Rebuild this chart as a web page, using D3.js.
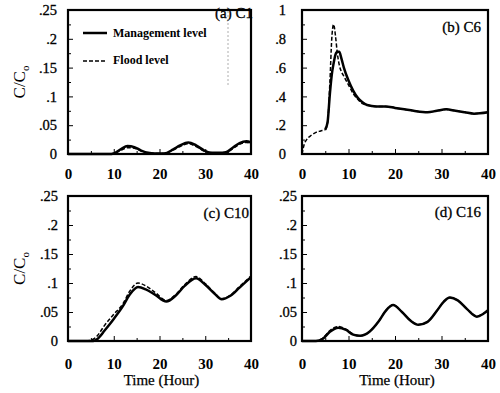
<!DOCTYPE html>
<html>
<head>
<meta charset="utf-8">
<script src="https://cdn.jsdelivr.net/npm/d3@7"></script>
<style>
  body { margin: 0; background: #fff; }
  svg { display: block; font-family: "Liberation Serif", "Times New Roman", serif; }
</style>
</head>
<body>
<svg id="chart" width="500" height="393"></svg>
<script>
// (a) C1
var timeA = [0, 5, 9, 10, 11.5, 13, 14.5, 16, 17.5, 19, 21, 23, 24.5, 26.3, 28, 29.8, 31.5, 33, 34.5, 36, 37.5, 39, 40];
var mgmtA = [0, 0, 0, 0.001, 0.008, 0.014, 0.012, 0.006, 0.002, 0.001, 0.001, 0.008, 0.015, 0.02, 0.015, 0.006, 0.002, 0.002, 0.003, 0.011, 0.019, 0.022, 0.02];
var floodA = [0, 0, 0, 0.001, 0.006, 0.011, 0.01, 0.005, 0.001, 0.001, 0.001, 0.007, 0.013, 0.018, 0.013, 0.005, 0.002, 0.001, 0.002, 0.009, 0.017, 0.02, 0.018];

// (b) C6
var timeB = [0, 0.5, 1, 2, 3, 4, 5, 5.5, 6, 6.4, 6.8, 7.2, 7.6, 8, 8.5, 9, 10, 11, 12, 13, 14, 16, 18, 20, 22, 24, 27, 29, 31, 33, 35, 37, 40];
var mgmtB = [null, null, null, null, null, null, 0.17, 0.22, 0.42, 0.55, 0.63, 0.69, 0.71, 0.71, 0.66, 0.6, 0.51, 0.44, 0.39, 0.36, 0.34, 0.33, 0.33, 0.32, 0.31, 0.3, 0.29, 0.3, 0.31, 0.3, 0.29, 0.28, 0.29];
var floodB = [0, 0.07, 0.1, 0.13, 0.15, 0.16, 0.17, 0.22, 0.5, 0.8, 0.9, 0.82, 0.7, 0.62, 0.57, 0.54, 0.48, 0.42, 0.38, 0.35, 0.34, 0.33, 0.33, 0.32, 0.31, 0.3, 0.29, 0.3, 0.31, 0.3, 0.29, 0.28, 0.29];

// (c) C10
var timeC = [0, 4, 5.5, 6.5, 8, 10, 12, 13.5, 15.3, 17, 19, 21.5, 23.5, 25.5, 28, 30, 32, 33.6, 35.5, 37.5, 40];
var mgmtC = [0, 0, 0, 0.004, 0.018, 0.038, 0.06, 0.08, 0.093, 0.089, 0.08, 0.068, 0.078, 0.095, 0.108, 0.097, 0.082, 0.072, 0.078, 0.092, 0.11];
var floodC = [0, 0, 0.003, 0.01, 0.027, 0.046, 0.064, 0.086, 0.1, 0.095, 0.084, 0.07, 0.08, 0.097, 0.111, 0.099, 0.083, 0.073, 0.079, 0.094, 0.112];

// (d) C16
var timeD = [0, 3, 4.5, 6, 7.8, 9.5, 11, 12.5, 14.5, 16.5, 18, 19.6, 21.5, 23.5, 25, 27, 29, 30.5, 31.8, 33.5, 35.5, 37.6, 39, 40];
var mgmtD = [0, 0, 0.004, 0.016, 0.023, 0.019, 0.011, 0.009, 0.016, 0.034, 0.052, 0.062, 0.05, 0.034, 0.028, 0.033, 0.052, 0.068, 0.075, 0.07, 0.055, 0.042, 0.047, 0.053];
var floodD = [0, 0, 0.005, 0.018, 0.025, 0.02, 0.012, 0.009, 0.016, 0.034, 0.052, 0.062, 0.05, 0.034, 0.028, 0.033, 0.052, 0.068, 0.075, 0.07, 0.055, 0.043, 0.047, 0.053];

var xTicks = [0, 10, 20, 30, 40];
var yTicksSmall = [0, 0.05, 0.1, 0.15, 0.2, 0.25];
var yTicksBig = [0, 0.2, 0.4, 0.6, 0.8, 1];

var panels = [
  {id: "a", title: "(a) C1", t: timeA, m: mgmtA, f: floodA, yMax: 0.25, yTicks: yTicksSmall,
   box: [68, 251, 10, 154], yPad: 11, xPad: 14, titleX: 253, titleY: 18, yLabel: true, xTitle: false},
  {id: "b", title: "(b) C6", t: timeB, m: mgmtB, f: floodB, yMax: 1, yTicks: yTicksBig,
   box: [302, 488, 10, 154], yPad: 16, xPad: 14, titleX: 481, titleY: 32, yLabel: false, xTitle: false},
  {id: "c", title: "(c) C10", t: timeC, m: mgmtC, f: floodC, yMax: 0.25, yTicks: yTicksSmall,
   box: [68, 251, 196, 341], yPad: 10, xPad: 17, titleX: 249, titleY: 218, yLabel: true, xTitle: true},
  {id: "d", title: "(d) C16", t: timeD, m: mgmtD, f: floodD, yMax: 0.25, yTicks: yTicksSmall,
   box: [302, 488, 196, 341], yPad: 5, xPad: 17, titleX: 481, titleY: 217, yLabel: false, xTitle: true}
];

var svg = d3.select("#chart");

function fmt(d) {
  if (d === 0) return "0";
  if (d === 1) return "1";
  return String(+d.toFixed(3)).replace(/^0/, "");
}

panels.forEach(function(p) {
  var x = d3.scaleLinear().domain([0, 40]).range([p.box[0], p.box[1]]);
  var y = d3.scaleLinear().domain([0, p.yMax]).range([p.box[3], p.box[2]]);
  var g = svg.append("g").attr("class", "panel-" + p.id);

  // minor ticks (halfway between majors)
  var xMinor = d3.range(5, 40, 10);
  var step = p.yTicks[1] - p.yTicks[0];
  var yMinor = p.yTicks.slice(0, -1).map(function(v) { return v + step / 2; });

  g.append("g")
    .attr("transform", "translate(0," + p.box[3] + ")")
    .call(d3.axisBottom(x).tickValues(xMinor).tickSize(-3).tickFormat(""))
    .call(function(s) { s.select(".domain").remove(); });
  g.append("g")
    .attr("transform", "translate(" + p.box[0] + ",0)")
    .call(d3.axisLeft(y).tickValues(yMinor).tickSize(-3).tickFormat(""))
    .call(function(s) { s.select(".domain").remove(); });

  var xAxis = g.append("g")
    .attr("transform", "translate(0," + p.box[3] + ")")
    .call(d3.axisBottom(x).tickValues(xTicks).tickSize(-5).tickPadding(p.xPad));
  xAxis.select(".domain").remove();
  xAxis.selectAll("text")
    .style("font-family", "Liberation Serif")
    .style("font-size", "15px")
    .style("font-weight", "bold")
    .attr("fill", "#000");

  var yAxis = g.append("g")
    .attr("transform", "translate(" + p.box[0] + ",0)")
    .call(d3.axisLeft(y).tickValues(p.yTicks).tickSize(-5).tickPadding(p.yPad).tickFormat(fmt));
  yAxis.select(".domain").remove();
  yAxis.selectAll("text")
    .style("font-family", "Liberation Serif")
    .style("font-size", "14.5px")
    .attr("fill", "#000")
    .attr("stroke", "#000")
    .attr("stroke-width", 0.3);
  g.selectAll(".tick line").attr("stroke", "#000").attr("stroke-width", 1);

  var line = d3.line()
    .defined(function(d) { return d[1] != null; })
    .x(function(d) { return x(d[0]); })
    .y(function(d) { return y(d[1]); })
    .curve(d3.curveMonotoneX);

  var mData = p.t.map(function(t, i) { return [t, p.m[i]]; });
  var fData = p.t.map(function(t, i) { return [t, p.f[i]]; });

  g.append("path")
    .attr("d", line(mData))
    .attr("fill", "none")
    .attr("stroke", "#000")
    .attr("stroke-width", 2.5);
  g.append("path")
    .attr("d", line(fData))
    .attr("fill", "none")
    .attr("stroke", "#000")
    .attr("stroke-width", 1.5)
    .attr("stroke-dasharray", "4,2");

  // frame
  g.append("rect")
    .attr("x", p.box[0])
    .attr("y", p.box[2])
    .attr("width", p.box[1] - p.box[0])
    .attr("height", p.box[3] - p.box[2])
    .attr("fill", "none")
    .attr("stroke", "#000")
    .attr("stroke-width", 2.2);

  g.append("text")
    .attr("x", p.titleX)
    .attr("y", p.titleY)
    .attr("text-anchor", "end")
    .style("font-size", "15px")
    .attr("stroke", "#000")
    .attr("stroke-width", 0.3)
    .text(p.title);

  if (p.yLabel) {
    var cy = (p.box[2] + p.box[3]) / 2;
    var lab = g.append("text")
      .attr("transform", "translate(25," + cy + ") rotate(-90)")
      .attr("text-anchor", "middle")
      .style("font-size", "17px");
    lab.append("tspan").text("C/C");
    lab.append("tspan").attr("dy", 4).style("font-size", "11px").text("o");
  }
  if (p.xTitle) {
    g.append("text")
      .attr("x", (p.box[0] + p.box[1]) / 2 + 2)
      .attr("y", 385)
      .attr("text-anchor", "middle")
      .style("font-size", "15px")
      .attr("stroke", "#000")
      .attr("stroke-width", 0.25)
      .text("Time (Hour)");
  }
});

// legend in panel (a)
var legend = svg.append("g").style("font-size", "12px").style("font-weight", "bold");
legend.append("line").attr("x1", 83).attr("x2", 107).attr("y1", 33).attr("y2", 33)
  .attr("stroke", "#000").attr("stroke-width", 2.5);
legend.append("text").attr("x", 113).attr("y", 37).text("Management level");
legend.append("line").attr("x1", 83).attr("x2", 107).attr("y1", 61).attr("y2", 61)
  .attr("stroke", "#000").attr("stroke-width", 1.5).attr("stroke-dasharray", "4,2");
legend.append("text").attr("x", 113).attr("y", 64).text("Flood level");

// faint scan mark in panel (a)
svg.append("line").attr("x1", 228).attr("x2", 228).attr("y1", 11).attr("y2", 85)
  .attr("stroke", "#999").attr("stroke-width", 0.8).attr("stroke-dasharray", "2,2");
</script>
</body>
</html>
